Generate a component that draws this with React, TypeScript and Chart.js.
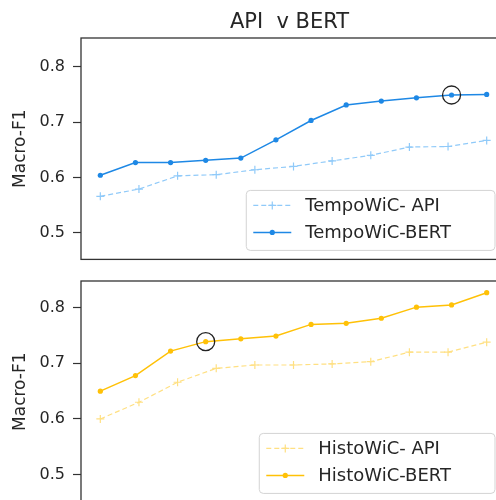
import React, { useEffect, useRef } from "react";
import { Chart, registerables } from "chart.js";

Chart.register(...registerables);

// ---- data ----
const bertX = [0, 1, 2, 3, 4, 5, 6, 7, 8, 9, 10, 11];
const apiX = [0, 1.1, 2.2, 3.3, 4.4, 5.5, 6.6, 7.7, 8.8, 9.9, 11];
const tempoBert = [0.604, 0.627, 0.627, 0.631, 0.635, 0.668, 0.703, 0.731, 0.738, 0.744, 0.749, 0.75];
const tempoApi = [0.566, 0.579, 0.603, 0.605, 0.614, 0.62, 0.63, 0.64, 0.655, 0.656, 0.667];
const histoBert = [0.65, 0.678, 0.722, 0.739, 0.744, 0.749, 0.77, 0.772, 0.781, 0.801, 0.805, 0.827];
const histoApi = [0.6, 0.63, 0.666, 0.691, 0.697, 0.697, 0.699, 0.703, 0.72, 0.72, 0.738];
const yTicks = [0.5, 0.6, 0.7, 0.8];
const tempoHighlight = 10;
const histoHighlight = 3;
const titleText = "API  v BERT";
const yLabel = "Macro-F1";
const tempoLabels = ["TempoWiC- API", "TempoWiC-BERT"];
const histoLabels = ["HistoWiC- API", "HistoWiC-BERT"];

const FONT = '"DejaVu Sans", sans-serif';
const TEXT = "#262626";

type LegendItem = { label: string; color: string; dash: number[]; marker: "cross" | "circle"; lw: number };

function drawMarker(ctx: CanvasRenderingContext2D, kind: string, x: number, y: number, color: string) {
  ctx.save();
  ctx.setLineDash([]);
  if (kind === "cross") {
    ctx.strokeStyle = color;
    ctx.lineWidth = 1.2;
    ctx.beginPath();
    ctx.moveTo(x - 4, y);
    ctx.lineTo(x + 4, y);
    ctx.moveTo(x, y - 4);
    ctx.lineTo(x, y + 4);
    ctx.stroke();
  } else {
    ctx.fillStyle = color;
    ctx.beginPath();
    ctx.arc(x, y, 2.6, 0, Math.PI * 2);
    ctx.fill();
  }
  ctx.restore();
}

function framePlugin() {
  return {
    id: "frame",
    afterDatasetsDraw(chart: any) {
      const { ctx, chartArea: a } = chart;
      ctx.save();
      ctx.strokeStyle = "#333";
      ctx.lineWidth = 1.3;
      ctx.strokeRect(a.left, a.top, a.right - a.left, a.bottom - a.top);
      ctx.restore();
    },
  };
}

function legendPlugin(items: LegendItem[]) {
  return {
    id: "boxLegend",
    afterDraw(chart: any) {
      const { ctx, chartArea: a } = chart;
      ctx.save();
      ctx.font = `18px ${FONT}`;
      const tw = Math.max(...items.map((i) => ctx.measureText(i.label).width));
      const w = tw + 103;
      const h = 60;
      const x0 = a.right - 11 - w;
      const y0 = a.bottom - 9 - h;
      const r = 4;
      ctx.beginPath();
      ctx.moveTo(x0 + r, y0);
      ctx.lineTo(x0 + w - r, y0);
      ctx.arcTo(x0 + w, y0, x0 + w, y0 + r, r);
      ctx.lineTo(x0 + w, y0 + h - r);
      ctx.arcTo(x0 + w, y0 + h, x0 + w - r, y0 + h, r);
      ctx.lineTo(x0 + r, y0 + h);
      ctx.arcTo(x0, y0 + h, x0, y0 + h - r, r);
      ctx.lineTo(x0, y0 + r);
      ctx.arcTo(x0, y0, x0 + r, y0, r);
      ctx.closePath();
      ctx.fillStyle = "rgba(255,255,255,0.8)";
      ctx.fill();
      ctx.strokeStyle = "#d3d3d3";
      ctx.lineWidth = 1;
      ctx.stroke();
      items.forEach((it, k) => {
        const yy = y0 + 15 + k * 27;
        ctx.save();
        ctx.strokeStyle = it.color;
        ctx.lineWidth = it.lw;
        ctx.setLineDash(it.dash);
        ctx.beginPath();
        ctx.moveTo(x0 + 7, yy);
        ctx.lineTo(x0 + 45, yy);
        ctx.stroke();
        ctx.restore();
        drawMarker(ctx, it.marker, x0 + 26, yy, it.color);
        ctx.fillStyle = TEXT;
        ctx.textAlign = "left";
        ctx.textBaseline = "middle";
        ctx.fillText(it.label, x0 + 59, yy + 1);
      });
      ctx.restore();
    },
  };
}

function titlePlugin() {
  return {
    id: "topTitle",
    afterDraw(chart: any) {
      const { ctx, chartArea: a } = chart;
      ctx.save();
      ctx.font = `21px ${FONT}`;
      ctx.fillStyle = TEXT;
      ctx.textAlign = "center";
      ctx.textBaseline = "alphabetic";
      ctx.fillText(titleText, (a.left + a.right) / 2 - 4, 27.5);
      ctx.restore();
    },
  };
}

function buildConfig(
  bert: number[],
  api: number[],
  hi: number,
  strong: string,
  light: string,
  labels: string[],
  yMin: number,
  yMax: number,
  padding: any,
  withTitle: boolean
): any {
  const plugins: any[] = [framePlugin(), legendPlugin([
    { label: labels[0], color: light, dash: [5, 3], marker: "cross", lw: 1.2 },
    { label: labels[1], color: strong, dash: [], marker: "circle", lw: 1.5 },
  ])];
  if (withTitle) plugins.push(titlePlugin());
  return {
    type: "line",
    data: {
      datasets: [
        {
          label: "highlight",
          data: [{ x: bertX[hi], y: bert[hi] }],
          showLine: false,
          pointStyle: "circle",
          pointRadius: 9,
          pointBackgroundColor: "rgba(0,0,0,0)",
          pointBorderColor: "#222",
          pointBorderWidth: 1.3,
        },
        {
          label: labels[1],
          data: bertX.map((x, i) => ({ x, y: bert[i] })),
          borderColor: strong,
          backgroundColor: strong,
          borderWidth: 1.5,
          pointStyle: "circle",
          pointRadius: 2.6,
          pointBorderWidth: 0,
          pointBackgroundColor: strong,
          tension: 0,
        },
        {
          label: labels[0],
          data: apiX.map((x, i) => ({ x, y: api[i] })),
          borderColor: light,
          backgroundColor: light,
          borderWidth: 1.2,
          borderDash: [5, 3],
          pointStyle: "cross",
          pointRadius: 4,
          pointBorderWidth: 1.2,
          pointBorderColor: light,
          tension: 0,
        },
      ],
    },
    options: {
      animation: false,
      responsive: false,
      maintainAspectRatio: false,
      layout: { padding },
      plugins: { legend: { display: false }, tooltip: { enabled: false }, title: { display: false } },
      scales: {
        x: { type: "linear", min: -0.55, max: 11.55, display: false },
        y: {
          type: "linear",
          min: yMin,
          max: yMax,
          afterBuildTicks: (s: any) => {
            s.ticks = yTicks.map((v) => ({ value: v }));
          },
          afterFit: (s: any) => {
            s.width = 81;
          },
          ticks: {
            font: { family: FONT, size: 16 },
            color: TEXT,
            padding: 8,
            callback: (v: any) => Number(v).toFixed(1),
          },
          grid: { drawOnChartArea: false, drawTicks: true, tickLength: 8, tickColor: "#333", tickWidth: 1.2 },
          border: { display: false },
          title: {
            display: true,
            text: yLabel,
            font: { family: FONT, size: 17 },
            color: TEXT,
            padding: { top: 10, bottom: 0 },
          },
        },
      },
    },
    plugins,
  };
}

export default function App() {
  const topRef = useRef<HTMLCanvasElement>(null);
  const botRef = useRef<HTMLCanvasElement>(null);

  useEffect(() => {
    const c1 = new Chart(
      topRef.current!,
      buildConfig(tempoBert, tempoApi, tempoHighlight, "#1E88E5", "#90CAF9", tempoLabels, 0.452, 0.852,
        { top: 38, right: 14, bottom: 0, left: 0 }, true)
    );
    const c2 = new Chart(
      botRef.current!,
      buildConfig(histoBert, histoApi, histoHighlight, "#FFC107", "#FFE082", histoLabels, 0.45, 0.848,
        { top: 19, right: 14, bottom: 0, left: 0 }, false)
    );
    return () => {
      c1.destroy();
      c2.destroy();
    };
  }, []);

  return (
    <div style={{ position: "fixed", left: 0, top: 0, width: 496, height: 500, overflow: "hidden", background: "#fff" }}>
      <canvas ref={botRef} width={520} height={258} style={{ position: "absolute", left: 0, top: 262, width: 520, height: 258 }} />
      <canvas ref={topRef} width={520} height={277} style={{ position: "absolute", left: 0, top: 0, width: 520, height: 277 }} />
    </div>
  );
}
